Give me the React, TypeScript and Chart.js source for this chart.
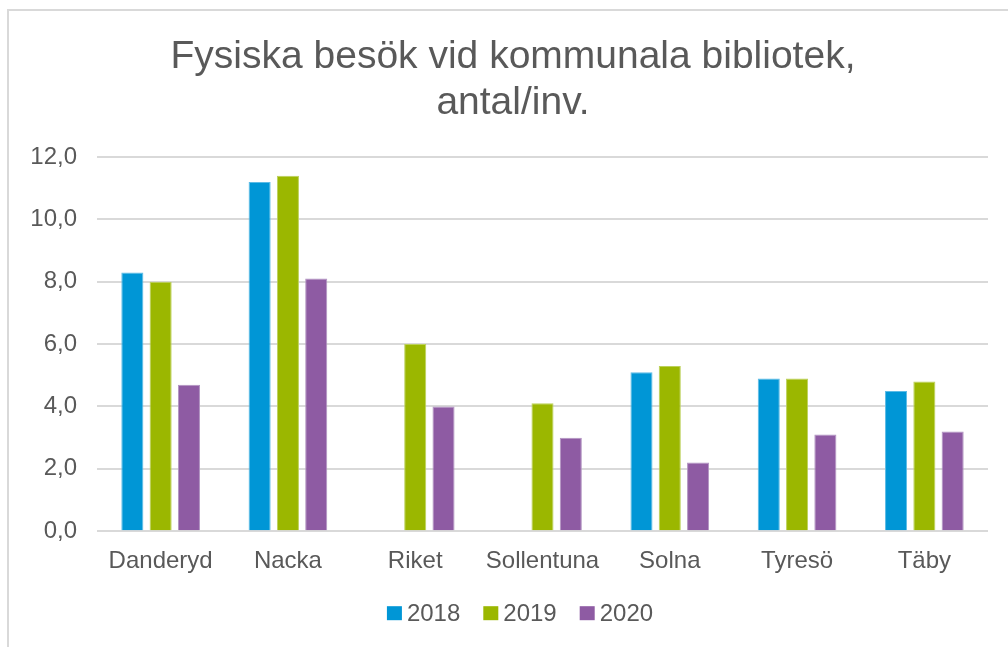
import React, { useEffect, useRef } from "react";
import { Chart, registerables } from "chart.js";

Chart.register(...registerables);

const categories = ["Danderyd", "Nacka", "Riket", "Sollentuna", "Solna", "Tyresö", "Täby"];
const values2018 = [8.3, 11.2, null, null, 5.1, 4.9, 4.5];
const values2019 = [8.0, 11.4, 6.0, 4.1, 5.3, 4.9, 4.8];
const values2020 = [4.7, 8.1, 4.0, 3.0, 2.2, 3.1, 3.2];
const seriesNames = ["2018", "2019", "2020"];
const titleLines = ["Fysiska besök vid kommunala bibliotek,", "antal/inv."];

const FONT = "'Liberation Sans', Arial, sans-serif";
const TEXT = "#595959";

const legendPlugin = {
  id: "customLegend",
  afterDraw(chart: any) {
    const ctx = chart.ctx;
    ctx.save();
    ctx.font = `24px ${FONT}`;
    const box = 15;
    const textGap = 5;
    const itemGap = 23;
    const items = chart.data.datasets.map((ds: any) => ({
      label: ds.label,
      color: ds.backgroundColor,
      w: box + textGap + ctx.measureText(ds.label).width,
    }));
    const total = items.reduce((s: number, i: any) => s + i.w, 0) + itemGap * (items.length - 1);
    let x = chart.width / 2 + 5 - total / 2;
    const y = chart.chartArea.bottom + 82;
    ctx.textBaseline = "middle";
    ctx.textAlign = "left";
    for (const it of items) {
      ctx.fillStyle = it.color;
      ctx.fillRect(x, y - 7, box, 14);
      ctx.fillStyle = TEXT;
      ctx.fillText(it.label, x + box + textGap, y + 1);
      x += it.w + itemGap;
    }
    ctx.restore();
  },
};

export default function App() {
  const ref = useRef<HTMLCanvasElement | null>(null);
  useEffect(() => {
    if (!ref.current) return;
    const chart = new Chart(ref.current, {
      type: "bar",
      data: {
        labels: categories,
        datasets: [
          { label: seriesNames[0], data: values2018, backgroundColor: "#0096d6", borderColor: "#5cbbe6", borderWidth: 1 },
          { label: seriesNames[1], data: values2019, backgroundColor: "#9bb700", borderColor: "#bcd15a", borderWidth: 1 },
          { label: seriesNames[2], data: values2020, backgroundColor: "#8e5ba3", borderColor: "#b193c1", borderWidth: 1 },
        ],
      },
      plugins: [legendPlugin],
      options: {
        responsive: false,
        animation: false,
        maintainAspectRatio: false,
        datasets: { bar: { categoryPercentage: 0.667, barPercentage: 0.78 } },
        layout: { padding: { left: 18, right: 22, top: 23, bottom: 63 } },
        plugins: {
          tooltip: { enabled: false },
          title: {
            display: true,
            text: titleLines,
            color: TEXT,
            font: { family: FONT, size: 39, weight: "normal", lineHeight: 46 / 39 },
            padding: { top: 0, bottom: 31 },
          },
          legend: { display: false },
        },
        scales: {
          x: {
            grid: { display: false },
            border: { display: false },
            ticks: { color: TEXT, font: { family: FONT, size: 24 }, padding: 8, maxRotation: 0, autoSkip: false },
            afterFit: (scale: any) => {
              scale.paddingLeft = 0;
              scale.paddingRight = 0;
            },
          },
          y: {
            min: 0,
            max: 12,
            grid: { color: "#d9d9d9", lineWidth: 2, drawTicks: false },
            border: { display: false },
            ticks: {
              stepSize: 2,
              color: TEXT,
              font: { family: FONT, size: 24 },
              padding: 20,
              callback: (v: any) => Number(v).toFixed(1).replace(".", ","),
            },
            afterFit: (scale: any) => {
              scale.width = 69;
            },
          },
          yRight: {
            position: "right",
            min: 0,
            max: 12,
            grid: { display: false, drawTicks: false },
            border: { display: false },
            ticks: { display: false },
            afterFit: (scale: any) => {
              scale.width = 10;
            },
          },
        },
      },
    });
    return () => chart.destroy();
  }, []);
  return (
    <div style={{ position: "fixed", left: 0, top: 0, width: 1008, height: 647, overflow: "hidden", background: "#fff" }}>
      <div
        style={{
          position: "absolute",
          left: 7,
          top: 9,
          width: 1100,
          height: 700,
          borderLeft: "2px solid #d9d9d9",
          borderTop: "2px solid #d9d9d9",
        }}
      />
      <canvas ref={ref} width={1010} height={636} style={{ position: "absolute", left: 10, top: 11, width: 1010, height: 636 }} />
    </div>
  );
}
